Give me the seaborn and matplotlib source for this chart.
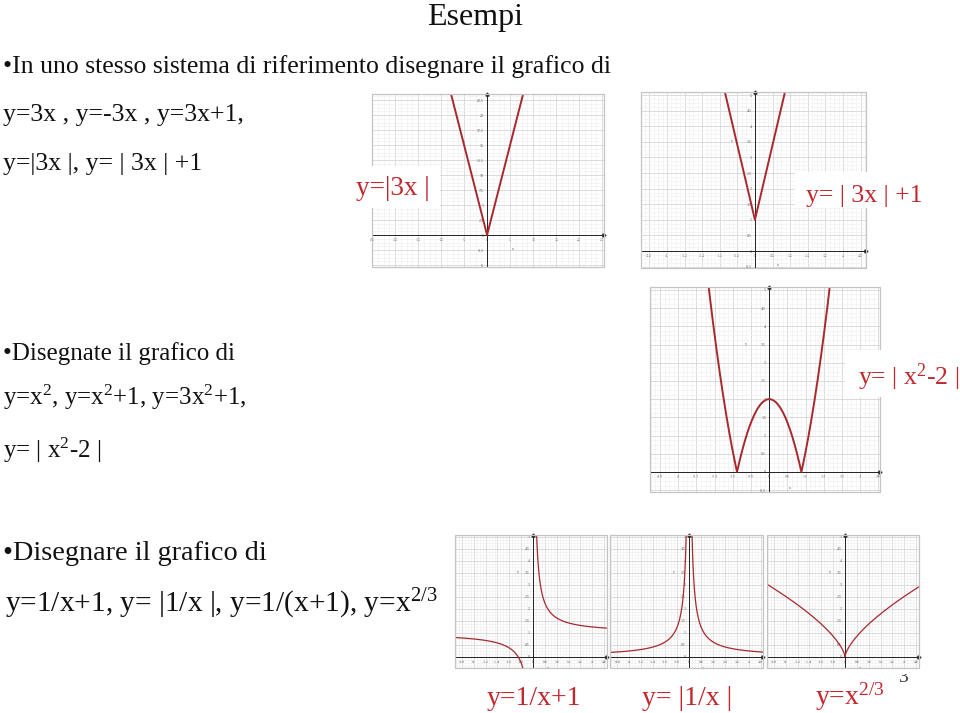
import numpy as np
import pandas as pd
import matplotlib
matplotlib.use("Agg")
import matplotlib.pyplot as plt
import seaborn as sns
from matplotlib.patches import Rectangle
from matplotlib.ticker import MultipleLocator, FuncFormatter

sns.set_theme(style="white")
plt.rcParams["font.family"] = ["Liberation Serif", "DejaVu Serif"]
plt.rcParams["mathtext.fontset"] = "custom"
plt.rcParams["mathtext.rm"] = "Liberation Serif"
plt.rcParams["mathtext.it"] = "Liberation Serif:italic"
plt.rcParams["mathtext.default"] = "rm"

# ---------------- data ----------------
title = "Esempi"
text_block1 = ["\u2022In uno stesso sistema di riferimento disegnare il grafico di",
               "y=3x , y=-3x , y=3x+1,",
               "y=|3x |, y= | 3x | +1"]
text_block2 = ["\u2022Disegnate il grafico di",
               r"y=x$^2$, y=x$^2$+1, y=3x$^2$+1,",
               r"y= | x$^2$-2 |"]
text_block3 = ["\u2022Disegnare il grafico di",
               r"y=1/x+1, y= |1/x |, y=1/(x+1), y=x$^{2/3}$"]
panel_labels = ["y=|3x |", "y= | 3x | +1", r"y= | x$^2$-2 |",
                "y=1/x+1", "y= |1/x |", r"y=x$^{2/3}$"]

# sample domains of the plotted functions
x_abs3x = np.linspace(-9, 9, 401)
x_abs3x1 = np.linspace(-2, 2, 401)
x_absx2m2 = np.linspace(-2.8, 2.8, 801)
x_neg = np.linspace(-5.4, -0.01, 1500)
x_pos = np.linspace(0.01, 5.2, 1500)
x_pow = np.linspace(-5.4, 5.2, 1501)

curves = [
    [(x_abs3x, np.abs(3 * x_abs3x))],
    [(x_abs3x1, np.abs(3 * x_abs3x1) + 1)],
    [(x_absx2m2, np.abs(x_absx2m2 ** 2 - 2))],
    [(x_neg, 1 / x_neg + 1), (x_pos, 1 / x_pos + 1)],
    [(x_neg, np.abs(1 / x_neg)), (x_pos, np.abs(1 / x_pos))],
    [(x_pow, np.cbrt(x_pow) ** 2)],
]

# ---------------- layout ----------------
W, H = 960, 713
fig = plt.figure(figsize=(9.6, 7.13), dpi=100)
fig.patch.set_facecolor("white")

frames = [(372, 94, 604, 267), (641, 92, 866, 268), (650, 287, 880, 492),
          (455, 535, 607, 668), (610, 535, 763, 668), (767, 535, 919, 668)]
xlims = [(-25, 25.4), (-5.18, 5.05), (-5.24, 4.87), (-5.27, 5.0), (-5.3, 4.95), (-5.27, 5.0)]
ylims = [(-5.33, 23.5), (-0.545, 5.1), (-0.55, 5.08), (-0.46, 5.08), (-0.46, 5.08), (-0.46, 5.08)]
xmajor = [5, 0.8, 0.8, 0.8, 0.8, 0.8]
ymajor = [2.5, 0.5, 0.5, 0.5, 0.5, 0.5]
curve_lw = [1.4, 1.4, 1.4, 0.9, 0.9, 0.9]
CURVE = "#a8282e"
RED = "#c1272d"
BLACK = "#111111"

fmt = FuncFormatter(lambda v, p: f"{round(v, 2):g}" if abs(v) > 1e-9 else "0")

for i, (fr, xl, yl) in enumerate(zip(frames, xlims, ylims)):
    l, t, r, b = fr
    ax = fig.add_axes([l / W, 1 - b / H, (r - l) / W, (b - t) / H])
    ax.set_facecolor("white")
    for xs, ys in curves[i]:
        sns.lineplot(x=xs, y=ys, ax=ax, color=CURVE, lw=curve_lw[i],
                     sort=False, estimator=None, zorder=5)
    ax.set_xlim(*xl)
    ax.set_ylim(*yl)
    ax.xaxis.set_major_locator(MultipleLocator(xmajor[i]))
    ax.yaxis.set_major_locator(MultipleLocator(ymajor[i]))
    ax.xaxis.set_minor_locator(MultipleLocator(xmajor[i] / 4))
    ax.yaxis.set_minor_locator(MultipleLocator(ymajor[i] / 4))
    ax.xaxis.set_major_formatter(fmt)
    ax.yaxis.set_major_formatter(fmt)
    ax.set_axisbelow(True)
    ax.grid(which="major", color="#d6d6d6", lw=0.6)
    ax.grid(which="minor", color="#f0f0f0", lw=0.45)
    ax.spines["left"].set_position(("data", 0))
    ax.spines["bottom"].set_position(("data", 0))
    for s in ("left", "bottom"):
        ax.spines[s].set_color("#222222")
        ax.spines[s].set_linewidth(0.7)
        ax.spines[s].set_zorder(4)
    ax.spines["top"].set_visible(False)
    ax.spines["right"].set_visible(False)
    ax.tick_params(which="major", direction="inout", length=2.5, width=0.5,
                   labelsize=2.8, pad=1, colors="#222222")
    ax.tick_params(which="minor", direction="inout", length=1.2, width=0.4,
                   colors="#222222")
    for lab in ax.get_xticklabels() + ax.get_yticklabels():
        lab.set_color("#555555")
    ax.set_xlabel("")
    ax.set_ylabel("")
    ax.plot(1, 0, ">", color="#222222", ms=2.2, transform=ax.get_yaxis_transform(),
            clip_on=False, zorder=6)
    ax.plot(0, 1, "^", color="#222222", ms=2.2, transform=ax.get_xaxis_transform(),
            clip_on=False, zorder=6)
    xr = xl[1] - xl[0]
    yr = yl[1] - yl[0]
    ax.text(-0.1 * xr, 0.72, "y", transform=ax.get_xaxis_transform(), fontsize=3,
            color="#555555", ha="center", va="center")
    ax.text(0.61, -0.08 * yr, "x", transform=ax.get_yaxis_transform(), fontsize=3,
            color="#555555", ha="center", va="center")
    ax.add_patch(Rectangle((0, 0), 1, 1, transform=ax.transAxes, fill=False,
                           ec="#c4c4c4", lw=0.9, clip_on=False, zorder=7))


def T(x, y, s, size, color=BLACK, ha="left", va="baseline", z=3):
    fig.text(x / W, 1 - y / H, s, fontsize=size, color=color, ha=ha, va=va, zorder=z)


def white_box(l, t, r, b, z=2):
    fig.add_artist(Rectangle((l / W, 1 - b / H), (r - l) / W, (b - t) / H,
                             transform=fig.transFigure, fc="white", ec="none", zorder=z))


# title
T(475, 25, title, 23, ha="center")

# left text blocks
T(3, 73, text_block1[0], 18.5)
T(3, 121, text_block1[1], 18.5)
T(3, 170, text_block1[2], 18.5)

T(3, 360, text_block2[0], 18)
T(3, 405, text_block2[1], 18)
T(3, 458, text_block2[2], 18)

T(3, 560, text_block3[0], 20.3)
T(5, 612, text_block3[1], 21.2)

# red labels on white boxes
white_box(348, 166, 440, 208)
T(356, 195, panel_labels[0], 19.5, RED)
white_box(795, 172, 880, 208)
T(806, 202, panel_labels[1], 18.5, RED)
white_box(845, 350, 882, 397)
T(858, 385, panel_labels[2], 18.5, RED)

T(487, 705, panel_labels[3], 20, RED)
T(642, 705, panel_labels[4], 20, RED)
T(815, 705, panel_labels[5], 20, RED)

# partially hidden page number
T(898, 682, "3", 14, "#333333", z=-2)
white_box(890, 660, 915, 674, z=-1)

fig.savefig("out.png", dpi=100, facecolor="white")
